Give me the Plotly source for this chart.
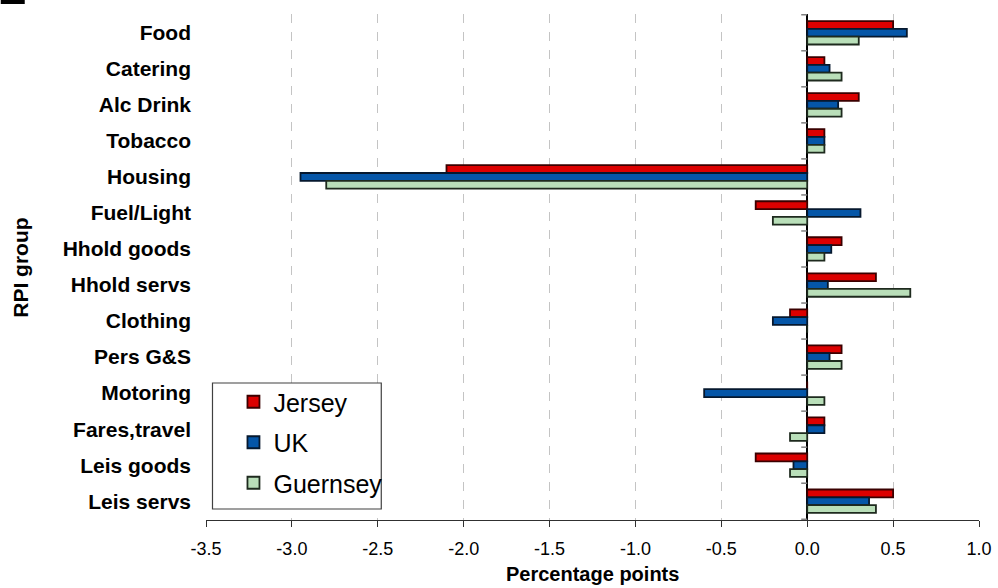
import plotly.graph_objects as go

# RPI group contributions (percentage points)
categories = ["Food", "Catering", "Alc Drink", "Tobacco", "Housing", "Fuel/Light",
              "Hhold goods", "Hhold servs", "Clothing", "Pers G&S", "Motoring",
              "Fares,travel", "Leis goods", "Leis servs"]
jersey = [0.5, 0.1, 0.3, 0.1, -2.1, -0.3, 0.2, 0.4, -0.1, 0.2, 0.0, 0.1, -0.3, 0.5]
uk = [0.58, 0.13, 0.18, 0.1, -2.95, 0.31, 0.14, 0.12, -0.2, 0.13, -0.6, 0.1, -0.08, 0.36]
guernsey = [0.3, 0.2, 0.2, 0.1, -2.8, -0.2, 0.1, 0.6, 0.0, 0.2, 0.1, -0.1, -0.1, 0.4]
x_ticks = [-3.5, -3.0, -2.5, -2.0, -1.5, -1.0, -0.5, 0.0, 0.5, 1.0]

W, H = 998, 588
ML, MR, MT, MB = 205.5, 18.5, 14, 68
PW, PH = W - ML - MR, H - MT - MB


def px_x(px):
    """pixel column -> paper x"""
    return (px - ML) / PW


def px_y(py):
    """pixel row -> paper y"""
    return (H - MB - py) / PH


FONT = "Liberation Sans, Arial, sans-serif"

series = [
    ("Jersey", jersey, "#dc0000", "#3a0000"),
    ("UK", uk, "#0556a8", "#06182e"),
    ("Guernsey", guernsey, "#b9dfb9", "#1e2a1e"),
]

fig = go.Figure()
for name, vals, fill, edge in series:
    fig.add_trace(go.Bar(
        name=name, y=categories, x=vals, orientation="h",
        marker=dict(color=fill, line=dict(color=edge, width=1.8)),
        legendgroup=name,
    ))

shapes = []
# small category ticks along the zero axis
for k in range(len(categories) + 1):
    shapes.append(dict(type="line", xref="x", yref="y", xsizemode="pixel", xanchor=0,
                       x0=-6, x1=0, y0=k - 0.5, y1=k - 0.5,
                       line=dict(color="#808080", width=1.5)))
# legend frame
shapes.append(dict(type="rect", xref="paper", yref="paper",
                   x0=px_x(212), x1=px_x(381), y0=px_y(509), y1=px_y(383),
                   fillcolor="white", line=dict(color="#404040", width=1.2), layer="above"))
# corner block
shapes.append(dict(type="rect", xref="paper", yref="paper",
                   x0=px_x(0), x1=px_x(24), y0=px_y(4), y1=px_y(0),
                   fillcolor="black", line=dict(width=0)))

annotations = [
    dict(text="<b>Percentage points</b>", xref="paper", yref="paper",
         x=0.5, y=px_y(574), xanchor="center", yanchor="middle", showarrow=False,
         font=dict(family=FONT, size=20, color="black")),
    dict(text="<b>RPI group</b>", xref="paper", yref="paper", textangle=-90,
         x=px_x(19), y=px_y(268), xanchor="center", yanchor="middle", showarrow=False,
         font=dict(family=FONT, size=21, color="black")),
]

fig.update_layout(
    width=W, height=H,
    margin=dict(l=ML, r=MR, t=MT, b=MB, autoexpand=False),
    paper_bgcolor="white", plot_bgcolor="white",
    barmode="group", bargap=0.35, bargroupgap=0.0,
    font=dict(family=FONT, color="black"),
    shapes=shapes, annotations=annotations,
    legend=dict(
        x=px_x(233), y=px_y(379), xanchor="left", yanchor="top",
        bgcolor="rgba(0,0,0,0)", borderwidth=0,
        font=dict(family=FONT, size=25, color="black"),
        traceorder="grouped", tracegroupgap=5, itemwidth=30,
    ),
    xaxis=dict(
        range=[-3.5, 1.0], tickvals=x_ticks,
        ticktext=[f"{v:.1f}" for v in x_ticks],
        showgrid=True, gridcolor="#c4c4c4", griddash="dash", gridwidth=1,
        zeroline=True, zerolinecolor="black", zerolinewidth=1.6,
        showline=True, linecolor="#303030", linewidth=1.2,
        ticks="outside", ticklen=6, tickcolor="#303030",
        ticklabelstandoff=6, automargin=False,
        tickfont=dict(family=FONT, size=18),
    ),
    yaxis=dict(
        type="category", autorange="reversed",
        showgrid=False, zeroline=False, showline=False, ticks="",
        ticklabelstandoff=14, automargin=False,
        tickfont=dict(family=FONT, size=21, weight="bold"),
    ),
)

fig.write_html("out.html")
